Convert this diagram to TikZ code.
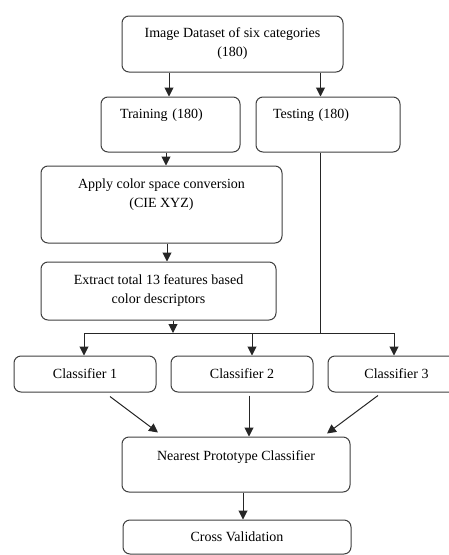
\documentclass[tikz,border=0pt]{standalone}
\usepackage{fontspec}
\setmainfont{Liberation Serif}
\usetikzlibrary{arrows.meta,positioning,calc}
\tikzset{
proc_box/.style={
	% The shape:
	rectangle,
	rounded corners=7pt,
	% The border:
	line width=1pt,
	draw=black!75,
	% The filling:
	fill=white,
	% Font
	font=\fontsize{14}{19}\selectfont,
	align=center,
	inner sep=0pt
},
flow_arrow/.style={
	% The line:
	line width=1pt,
	draw=black!85,
	% The tip:
	-{Triangle[length=9pt,width=9pt]}
},
flow_line/.style={
	line width=1pt,
	draw=black!85
},
% pushes the text up inside a tall box
raise_text/.style={text depth=#1}
}
\begin{document}
\begin{tikzpicture}[x=1pt,y=-1pt]
	\useasboundingbox[fill=white] (0,0) rectangle (449,555);
	\node[proc_box, minimum width=221pt, minimum height=56pt] (dataset) at (232.5,44)
		{Image Dataset of six categories\\(180)};
	\node[proc_box, minimum width=139pt, minimum height=55pt,
		raise_text=21pt, text width=101pt, align=left] (train) at (170.5,124.5)
		{Training (180)};
	\node[proc_box, minimum width=144pt, minimum height=55pt,
		raise_text=21pt, text width=110pt, align=left] (test) at (328,124.5)
		{Testing (180)};
	\node[proc_box, minimum width=241pt, minimum height=77pt, raise_text=22pt] (apply) at (161.5,204.5)
		{Apply color space conversion\\(CIE XYZ)};
	\node[proc_box, minimum width=235pt, minimum height=58pt] (extract) at (158.5,291)
		{Extract total 13 features based\\color descriptors};
	\node[proc_box, minimum width=142pt, minimum height=36pt] (cls1) at (85,374) {Classifier 1};
	\node[proc_box, minimum width=142pt, minimum height=36pt] (cls2) at (242,374) {Classifier 2};
	\node[proc_box, minimum width=137pt, minimum height=36pt] (cls3) at (396.5,374) {Classifier 3};
	\node[proc_box, minimum width=228pt, minimum height=55pt, raise_text=18pt] (npc) at (236,464.5)
		{Nearest Prototype Classifier};
	\node[proc_box, minimum width=228pt, minimum height=34pt] (cv) at (237,537) {Cross Validation};
	\coordinate (bus) at (0,333);
	% split into training and testing
	\draw[flow_arrow] ([xshift=-1.5pt]train.north |- dataset.south) -- ([xshift=-1.5pt]train.north);
	\draw[flow_arrow] ([xshift=-7.5pt]test.north |- dataset.south) -- ([xshift=-7.5pt]test.north);
	% training chain
	\draw[flow_arrow] ([xshift=-4.5pt]train.south) -- ([xshift=-4.5pt]train.south |- apply.north);
	\draw[flow_arrow] ([xshift=5.5pt]apply.south) -- ([xshift=5.5pt]apply.south |- extract.north);
	\draw[flow_arrow] ([xshift=14.5pt]extract.south) -- ([xshift=14.5pt]extract.south |- bus);
	\draw[flow_line] ([xshift=-7.5pt]test.south) -- ([xshift=-7.5pt]test.south |- bus);
	% bus to the classifiers
	\draw[flow_line] ([xshift=-1pt]cls1.north |- bus) -- ([xshift=-2.5pt]cls3.north |- bus);
	\draw[flow_arrow] ([xshift=-1pt]cls1.north |- bus) -- ([xshift=-1pt]cls1.north);
	\draw[flow_arrow] ([xshift=10pt]cls2.north |- bus) -- ([xshift=10pt]cls2.north);
	\draw[flow_arrow] ([xshift=-2.5pt]cls3.north |- bus) -- ([xshift=-2.5pt]cls3.north);
	% into the prototype classifier
	\draw[flow_arrow] ([xshift=25pt,yshift=-4pt]cls1.south) -- ([xshift=-78pt,yshift=4pt]npc.north);
	\draw[flow_arrow] ([xshift=7pt,yshift=-3pt]cls2.south) -- ([xshift=7pt]cls2.south |- npc.north);
	\draw[flow_arrow] ([xshift=-18.5pt,yshift=-3pt]cls3.south) -- ([xshift=91pt,yshift=3pt]npc.north);
	\draw[flow_arrow] ([xshift=7pt]npc.south) -- ([xshift=7pt]npc.south |- cv.north);
\end{tikzpicture}
\end{document}
